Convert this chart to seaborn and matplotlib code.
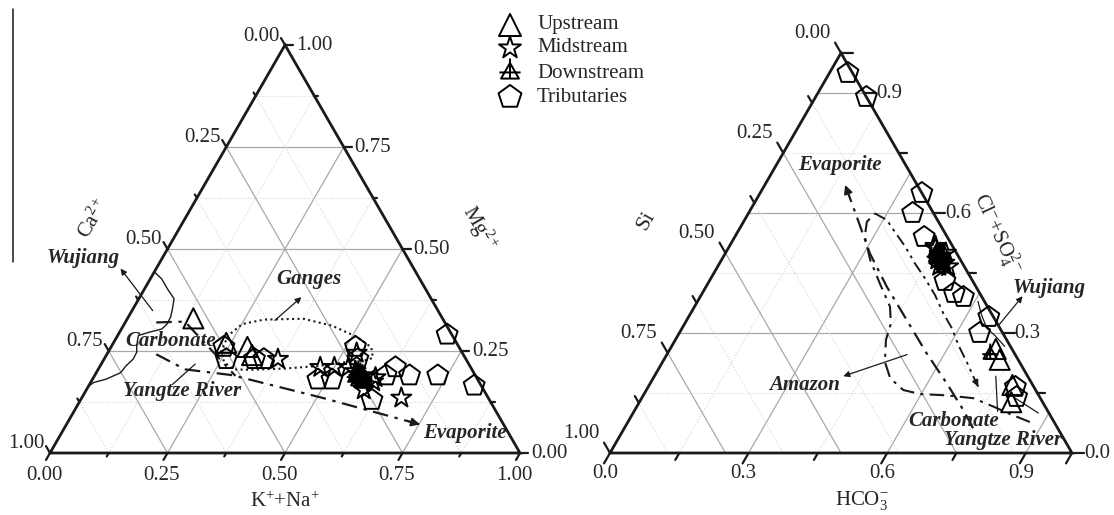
import numpy as np
import pandas as pd
import matplotlib
matplotlib.use("Agg")
import matplotlib.pyplot as plt
import seaborn as sns
from matplotlib.path import Path
from matplotlib.markers import MarkerStyle

# ---------------- data (fractions) ----------------
# Left ternary: K+Na (bottom axis), Ca2+ (left axis), Mg2+ (right axis); Ca = 1 - KNa - Mg
L_up_kna = [0.14, 0.24, 0.29, 0.31]
L_up_mg = [0.33, 0.27, 0.26, 0.24]
L_mid_kna = [0.37, 0.47, 0.50, 0.53, 0.53, 0.59, 0.60, 0.68, 0.60, 0.55, 0.57]
L_mid_mg = [0.23, 0.21, 0.21, 0.21, 0.245, 0.155, 0.175, 0.135, 0.185, 0.20, 0.19]
L_down_kna = [0.557, 0.567, 0.574, 0.575, 0.567, 0.563, 0.585, 0.556, 0.580, 0.556]
L_down_mg = [0.190, 0.182, 0.178, 0.186, 0.176, 0.195, 0.175, 0.185, 0.170, 0.200]
L_trib_kna = [0.24, 0.26, 0.32, 0.34, 0.48, 0.51, 0.52, 0.54, 0.62, 0.62, 0.63, 0.67, 0.73, 0.70, 0.82]
L_trib_mg = [0.26, 0.23, 0.23, 0.23, 0.18, 0.18, 0.26, 0.23, 0.13, 0.19, 0.21, 0.19, 0.19, 0.29, 0.165]

# Right ternary: HCO3- (bottom axis), Si (left axis), Cl-+SO4 2- (right axis)
R_up_hco3 = [0.705, 0.727, 0.786, 0.805]
R_up_cl = [0.260, 0.233, 0.170, 0.127]
R_mid_hco3 = [0.446, 0.470, 0.486, 0.479, 0.477, 0.467, 0.448, 0.499]
R_mid_cl = [0.517, 0.492, 0.475, 0.467, 0.500, 0.483, 0.512, 0.466]
R_down_hco3 = [0.455, 0.465, 0.470, 0.478, 0.485, 0.460, 0.490, 0.472, 0.700]
R_down_cl = [0.505, 0.495, 0.485, 0.478, 0.470, 0.490, 0.462, 0.500, 0.246]
R_trib_hco3 = [0.04, 0.11, 0.35, 0.355, 0.41, 0.51, 0.545, 0.57, 0.65, 0.65, 0.795, 0.81]
R_trib_cl = [0.95, 0.89, 0.65, 0.60, 0.54, 0.43, 0.40, 0.39, 0.34, 0.30, 0.165, 0.14]

# End-member fields / mixing trends (ternary fractions)
L_wujiang_kna = [0.0, 0.024, 0.048, 0.075, 0.084, 0.09, 0.091, 0.086, 0.063, 0.044, 0.053, 0.061, 0.062, 0.055, 0.052, 0.029, 0.007, 0.0]
L_wujiang_mg = [0.444, 0.427, 0.403, 0.378, 0.353, 0.333, 0.316, 0.304, 0.296, 0.288, 0.263, 0.247, 0.230, 0.214, 0.197, 0.181, 0.173, 0.164]
L_ganges_kna = [0.240, 0.235, 0.251, 0.292, 0.375, 0.444, 0.512, 0.554, 0.570, 0.562, 0.512, 0.470, 0.397, 0.323, 0.288, 0.260, 0.240]
L_ganges_mg = [0.247, 0.288, 0.316, 0.327, 0.329, 0.312, 0.284, 0.259, 0.234, 0.228, 0.222, 0.214, 0.207, 0.204, 0.205, 0.222, 0.247]
L_carb_kna = [0.066, 0.126, 0.300]
L_carb_mg = [0.320, 0.322, 0.189]
L_evap_kna = [0.105, 0.185, 0.291, 0.509, 0.752]
L_evap_mg = [0.242, 0.205, 0.191, 0.136, 0.070]

R_evap_hco3 = [0.755, 0.711, 0.642, 0.561, 0.476, 0.391, 0.313, 0.2385, 0.174]
R_evap_cl = [0.062, 0.1075, 0.174, 0.249, 0.3325, 0.416, 0.499, 0.591, 0.670]
R_amazon_hco3 = [0.870, 0.817, 0.772, 0.718, 0.657, 0.597, 0.556, 0.513, 0.481, 0.456, 0.446, 0.423, 0.372, 0.322, 0.281, 0.267, 0.274]
R_amazon_cl = [0.0775, 0.0975, 0.116, 0.137, 0.144, 0.1475, 0.1575, 0.187, 0.228, 0.2825, 0.324, 0.366, 0.424, 0.4825, 0.541, 0.578, 0.599]
R_yangtze_hco3 = [0.274, 0.308, 0.340, 0.381, 0.423, 0.463, 0.506, 0.547, 0.584, 0.619, 0.658, 0.691, 0.714]
R_yangtze_cl = [0.599, 0.5825, 0.553, 0.516, 0.474, 0.437, 0.395, 0.349, 0.312, 0.270, 0.228, 0.191, 0.166]
R_wujiang_hco3 = [0.607, 0.631, 0.659, 0.689, 0.721]
R_wujiang_cl = [0.379, 0.346, 0.3125, 0.2917, 0.2667]

series_names = ["Upstream", "Midstream", "Downstream", "Tributaries"]

# ---------------- style ----------------
sns.set_theme(style="white")
plt.rcParams["font.family"] = ["Liberation Serif", "DejaVu Serif"]
plt.rcParams["mathtext.fontset"] = "custom"
plt.rcParams["mathtext.rm"] = "Liberation Serif"
plt.rcParams["mathtext.it"] = "Liberation Serif:italic"
plt.rcParams["mathtext.bf"] = "Liberation Serif:bold"

FS = 15
MAJ = "#a9a9a9"
MIN = "#d4d4d4"


def proj(a, c):
    a = np.asarray(a, float)
    c = np.asarray(c, float)
    return a + c / 2.0, c


down_path = Path(
    [(0, 0.9), (-0.8, -0.5), (0.8, -0.5), (0, 0.9), (0, 1.3), (0, -0.5), (-0.95, 0.05), (0.95, 0.05)],
    [Path.MOVETO, Path.LINETO, Path.LINETO, Path.CLOSEPOLY, Path.MOVETO, Path.LINETO, Path.MOVETO, Path.LINETO],
)
DOWN = MarkerStyle(down_path)
MARKERS = {"Upstream": ("^", 210), "Midstream": ("*", 230), "Downstream": (DOWN, 250), "Tributaries": ("p", 250)}
LEG_SCALE = {"Upstream": 1.2, "Midstream": 1.2, "Downstream": 1.75, "Tributaries": 1.2}


def frame(ax, W, H, fam, tick_maj, tick_min):
    ax.set_xlim(0, 1)
    ax.set_ylim(0, 1)
    ax.axis("off")
    for v, ls, col, lw in [(v, ":", MIN, 0.8) for v in fam["a"][1]] + [(v, "-", MAJ, 0.9) for v in fam["a"][0]]:
        ax.plot([v, v + (1 - v) / 2], [0, 1 - v], ls=ls, color=col, lw=lw, zorder=1)
    for v, ls, col, lw in [(v, ":", MIN, 0.8) for v in fam["c"][1]] + [(v, "-", MAJ, 0.9) for v in fam["c"][0]]:
        ax.plot([v / 2, 1 - v / 2], [v, v], ls=ls, color=col, lw=lw, zorder=1)
    for v, ls, col, lw in [(v, ":", MIN, 0.8) for v in fam["b"][1]] + [(v, "-", MAJ, 0.9) for v in fam["b"][0]]:
        ax.plot([(1 - v) / 2, 1 - v], [1 - v, 0], ls=ls, color=col, lw=lw, zorder=1)
    ax.plot([0, 1, 0.5, 0], [0, 0, 1, 0], color="k", lw=2.0, zorder=6, clip_on=False, solid_joinstyle="miter")

    def tick(x, y, ux, uy, L):
        ax.plot([x, x + L * ux / W], [y, y + L * uy / H], color="k", lw=1.6, zorder=6, clip_on=False)

    for grp, L in [(0, tick_maj), (1, tick_min)]:
        for v in fam["a"][grp] + ([0.0, 1.0] if grp == 0 else []):
            tick(v, 0, -0.5, -0.866, L)
        for v in fam["c"][grp] + ([0.0, 1.0] if grp == 0 else []):
            tick(1 - v / 2, v, 1, 0, L)
        for v in fam["b"][grp] + ([0.0, 1.0] if grp == 0 else []):
            tick((1 - v) / 2, 1 - v, -0.5, 0.866, L)


def labels(ax, W, H, vals, fmt, side, off):
    for v in vals:
        if side == "a":
            x, y = v, 0
        elif side == "c":
            x, y = 1 - v / 2, v
        else:
            x, y = (1 - v) / 2, 1 - v
        ax.text(x + off[0] / W, y + off[1] / H, fmt.format(v), ha="center", va="center",
                fontsize=FS, clip_on=False, zorder=7)


def series(ax, a, c, name):
    x, y = proj(a, c)
    df = pd.DataFrame({"x": x, "y": y})
    m, s = MARKERS[name]
    sns.scatterplot(data=df, x="x", y="y", ax=ax, marker=m, s=s, facecolor="none",
                    edgecolor="black", linewidth=1.4, legend=False, zorder=8, clip_on=False)


def tline(ax, a, c, **kw):
    x, y = proj(a, c)
    ax.plot(x, y, color="k", zorder=4, clip_on=False, **kw)


def arrow(ax, p0, p1, lw=0.9, ms=9):
    x0, y0 = proj(*p0)
    x1, y1 = proj(*p1)
    ax.annotate("", xy=(x1, y1), xytext=(x0, y0),
                arrowprops=dict(arrowstyle="-|>", color="k", lw=lw, mutation_scale=ms,
                                shrinkA=0, shrinkB=0), zorder=5, annotation_clip=False)


def end_arrow(ax, a, c, frac=0.25, ms=13):
    p1 = (a[-1], c[-1])
    p0 = (a[-1] - frac * (a[-1] - a[-2]), c[-1] - frac * (c[-1] - c[-2]))
    arrow(ax, p0, p1, lw=1.2, ms=ms)


def itext(ax, x, y, s):
    ax.text(x, y, s, ha="center", va="center", fontsize=FS, fontweight="bold",
            fontstyle="italic", zorder=9, clip_on=False)


fig = plt.figure(figsize=(11.14, 5.15), dpi=100)
FW, FH = 1114, 515

# overlay axes in pixel units (legend, margin line)
ov = fig.add_axes([0, 0, 1, 1])
ov.set_xlim(0, FW)
ov.set_ylim(FH, 0)
ov.axis("off")
ov.plot([12.5, 12.5], [9, 262], color="k", lw=1.1)
leg_y = [25, 48, 73, 97]
for name, yy in zip(series_names, leg_y):
    m, s = MARKERS[name]
    ov.scatter([510], [yy], marker=m, s=s * LEG_SCALE[name], facecolor="none", edgecolor="black", linewidth=1.4)
    ov.text(537, yy, name, ha="left", va="center", fontsize=FS)

# ---------------- left diagram ----------------
W1, H1 = 470, 408
ax1 = fig.add_axes([50 / FW, (FH - 453) / FH, W1 / FW, H1 / FH])
q = [0.25, 0.5, 0.75]
e = [0.125, 0.375, 0.625, 0.875]
frame(ax1, W1, H1, {"a": (q, e), "b": (q, e), "c": (q, e)}, 8, 4)
labels(ax1, W1, H1, [0, 0.25, 0.5, 0.75, 1.0], "{:.2f}", "a", (-6, -22))
labels(ax1, W1, H1, [0, 0.25, 0.5, 0.75, 1.0], "{:.2f}", "b", (-24, 9))
labels(ax1, W1, H1, [0, 0.25, 0.5, 0.75, 1.0], "{:.2f}", "c", (29, 0))
ax1.text(0.5, -0.12, r"K$^{+}$+Na$^{+}$", ha="center", va="center", fontsize=FS, clip_on=False)
ax1.text(0.094, 0.574, r"Ca$^{2+}$", ha="center", va="center", fontsize=FS, rotation=60, clip_on=False)
ax1.text(0.913, 0.551, r"Mg$^{2+}$", ha="center", va="center", fontsize=FS, rotation=-60, clip_on=False)

tline(ax1, L_wujiang_kna, L_wujiang_mg, lw=1.0)
tline(ax1, L_ganges_kna, L_ganges_mg, lw=1.5, ls=(0, (1, 1.6)))
tline(ax1, L_carb_kna, L_carb_mg, lw=1.6, ls=(0, (7, 3, 1.5, 3)))
tline(ax1, L_evap_kna, L_evap_mg, lw=1.6, ls=(0, (7, 3, 1.5, 3)))
end_arrow(ax1, L_evap_kna, L_evap_mg, frac=0.12)
arrow(ax1, (0.044, 0.349), (-0.076, 0.452))
arrow(ax1, (0.316, 0.325), (0.344, 0.382))
tline(ax1, [0.200, 0.1765], [0.218, 0.168], lw=0.9)

for name, a, c in [("Tributaries", L_trib_kna, L_trib_mg), ("Upstream", L_up_kna, L_up_mg),
                   ("Midstream", L_mid_kna, L_mid_mg), ("Downstream", L_down_kna, L_down_mg)]:
    series(ax1, a, c, name)

itext(ax1, 0.070, 0.478, "Wujiang")
itext(ax1, 0.550, 0.427, "Ganges")
itext(ax1, 0.257, 0.275, "Carbonate")
itext(ax1, 0.280, 0.152, "Yangtze River")
itext(ax1, 0.882, 0.049, "Evaporite")

# ---------------- right diagram ----------------
W2, H2 = 462, 400
ax2 = fig.add_axes([610 / FW, (FH - 453) / FH, W2 / FW, H2 / FH])
p3 = [0.3, 0.6, 0.9]
p15 = [0.15, 0.45, 0.75]
frame(ax2, W2, H2, {"a": (p3, p15), "b": (q, e), "c": (p3, p15)}, 12, 8)
labels(ax2, W2, H2, [0, 0.3, 0.6, 0.9], "{:.1f}", "a", (-5, -21))
labels(ax2, W2, H2, [0, 0.25, 0.5, 0.75, 1.0], "{:.2f}", "b", (-29, 20))
labels(ax2, W2, H2, [0.9, 0.6, 0.3, 0.0], "{:.1f}", "c", (25, 0))
ax2.text(0.5455, -0.118, r"HCO$_{3}^{-}$", ha="center", va="center", fontsize=FS, clip_on=False)
ax2.text(0.078, 0.58, "Si", ha="center", va="center", fontsize=FS + 1, rotation=60, clip_on=False)
ax2.text(0.838, 0.55, r"Cl$^{-}$+SO$_{4}^{2-}$", ha="center", va="center", fontsize=FS,
         rotation=-65, clip_on=False)

tline(ax2, R_evap_hco3, R_evap_cl, lw=1.6, ls=(0, (7, 3, 1.5, 3)))
end_arrow(ax2, R_evap_hco3, R_evap_cl, frac=0.3)
tline(ax2, R_amazon_hco3, R_amazon_cl, lw=1.5, ls=(0, (7, 3, 1.5, 3)))
tline(ax2, R_yangtze_hco3, R_yangtze_cl, lw=1.4, ls=(0, (6, 2.5, 1.5, 2.5, 1.5, 2.5)))
end_arrow(ax2, R_yangtze_hco3, R_yangtze_cl, frac=0.5, ms=9)
tline(ax2, R_wujiang_hco3, R_wujiang_cl, lw=0.9)
arrow(ax2, (0.682, 0.321), (0.697, 0.392))
arrow(ax2, (0.52, 0.246), (0.409, 0.192))
tline(ax2, [0.787, 0.739], [0.104, 0.192], lw=0.9)
tline(ax2, [0.808, 0.877], [0.1375, 0.10], lw=0.9)

for name, a, c in [("Tributaries", R_trib_hco3, R_trib_cl), ("Upstream", R_up_hco3, R_up_cl),
                   ("Midstream", R_mid_hco3, R_mid_cl), ("Downstream", R_down_hco3, R_down_cl)]:
    series(ax2, a, c, name)

itext(ax2, 0.497, 0.721, "Evaporite")
itext(ax2, 0.420, 0.171, "Amazon")
itext(ax2, 0.950, 0.4125, "Wujiang")
itext(ax2, 0.743, 0.079, "Carbonate")
itext(ax2, 0.850, 0.033, "Yangtze River")

fig.savefig("out.png", dpi=100)
